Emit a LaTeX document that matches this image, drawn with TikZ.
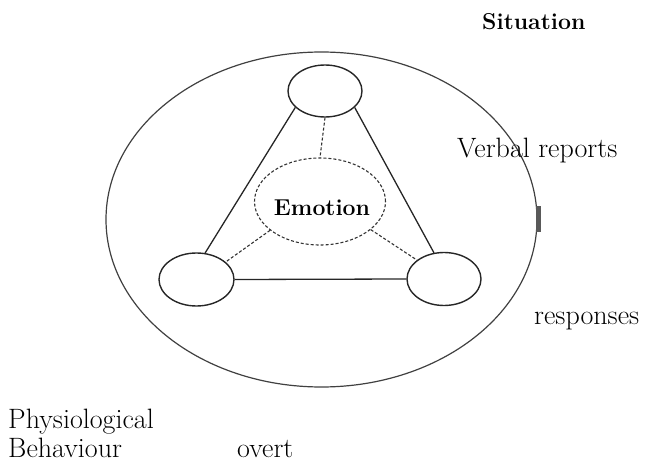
\documentclass[tikz,border=0pt]{standalone}
\usetikzlibrary{shapes.geometric}
\tikzset{
  circ/.style={ellipse, draw=black!85, line width=1.4pt, inner sep=0pt},
  outer/.style={ellipse, draw=black!75, line width=1.2pt, inner sep=0pt},
  link/.style={draw=black!85, line width=1.3pt},
  dlink/.style={draw=black!80, line width=1.1pt, dash pattern=on 3pt off 2pt},
  lbl/.style={inner sep=0pt, anchor=base west, font=\fontsize{28}{32}\selectfont},
  blbl/.style={inner sep=0pt, font=\fontsize{23}{27}\selectfont\bfseries}
}
\begin{document}
\begin{tikzpicture}[x=1pt,y=-1pt]
\useasboundingbox (0,0) rectangle (645,462);
% big situation ellipse
\node[outer, minimum width=431pt, minimum height=335pt] (sit) at (321.5,219.5) {};
\fill[black!65] (536,206) rectangle (541,232) node[inner sep=0pt] (bar) {};
% small ellipses
\node[circ, minimum width=74pt, minimum height=52pt] (top) at (325,91) {};
\node[circ, minimum width=75pt, minimum height=53pt] (left) at (196.5,279.5) {};
\node[circ, minimum width=74pt, minimum height=53pt] (right) at (444,279) {};
\node[ellipse, dlink, minimum width=131pt, minimum height=87pt, inner sep=0pt] (emo) at (320,201.5) {};
\node[blbl, anchor=base] (emotext) at (322,216) {Emotion};
% connectors
\draw[link] (top.209) -- (left.72);
\draw[link] (top.331) -- (right.111);
\draw[link] (left.east) -- (right.west);
\draw[dlink] (top.south) -- (emo.north);
\draw[dlink] (emo.210) -- (left.31);
\draw[dlink] (emo.331) -- (right.145);
% labels
\node[blbl, anchor=base west] (situation) at (482,30) {Situation};
\node[lbl] (verbal) at (457,158) {Verbal reports};
\node[lbl] (responses) at (534,324) {responses};
\node[lbl] (physio) at (8,428) {Physiological};
\node[lbl] (behav) at (8,457) {Behaviour};
\node[lbl] (overt) at (237,457) {overt};
\end{tikzpicture}
\end{document}
